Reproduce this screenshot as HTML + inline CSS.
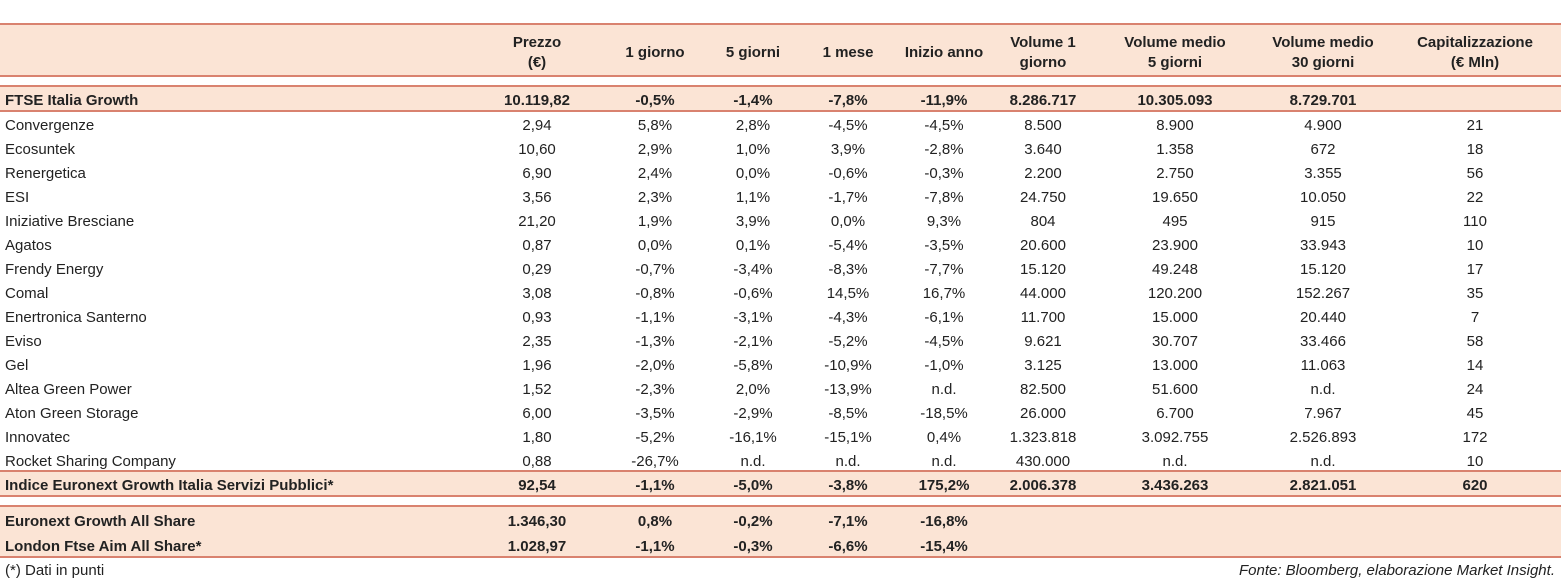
<!DOCTYPE html>
<html><head><meta charset="utf-8"><style>
body{margin:0;width:1561px;height:581px;background:#fff;position:relative;overflow:hidden;font-family:"Liberation Sans",sans-serif;color:#222}
.band{position:absolute;left:0;width:1561px;background:#fbe4d5}
.ln{position:absolute;left:0;width:1561px;height:2px;background:#d9826f}
.c{position:absolute;font-size:15px;white-space:nowrap;line-height:18px}
.b{font-weight:bold}
.h{text-align:center;font-weight:bold;font-size:15px;line-height:20px;position:absolute;white-space:nowrap}
</style></head><body>
<div class="band" style="top:25px;height:51px"></div>
<div class="band" style="top:87px;height:24px"></div>
<div class="band" style="top:472px;height:24px"></div>
<div class="band" style="top:507px;height:50px"></div>
<div class="ln" style="top:23px"></div>
<div class="ln" style="top:75px"></div>
<div class="ln" style="top:85px"></div>
<div class="ln" style="top:110px"></div>
<div class="ln" style="top:470px"></div>
<div class="ln" style="top:495px"></div>
<div class="ln" style="top:505px"></div>
<div class="ln" style="top:556px"></div>
<div class="c" style="left:5px;top:562px">(*) Dati in punti</div>
<div class="c" style="right:6px;top:562px;font-style:italic">Fonte: Bloomberg, elaborazione Market Insight.</div>
<script>
const colX=[537,655,753,848,944,1043,1175,1323,1475];
const headers=[["Prezzo","(€)"],["1 giorno"],["5 giorni"],["1 mese"],["Inizio anno"],["Volume 1","giorno"],["Volume medio","5 giorni"],["Volume medio","30 giorni"],["Capitalizzazione","(€ Mln)"]];
const names=["FTSE Italia Growth","Convergenze","Ecosuntek","Renergetica","ESI","Iniziative Bresciane","Agatos","Frendy Energy","Comal","Enertronica Santerno","Eviso","Gel","Altea Green Power","Aton Green Storage","Innovatec","Rocket Sharing Company","Indice Euronext Growth Italia Servizi Pubblici*","Euronext Growth All Share","London Ftse Aim All Share*"];
const rowsData=[
["10.119,82","-0,5%","-1,4%","-7,8%","-11,9%","8.286.717","10.305.093","8.729.701",""],
["2,94","5,8%","2,8%","-4,5%","-4,5%","8.500","8.900","4.900","21"],
["10,60","2,9%","1,0%","3,9%","-2,8%","3.640","1.358","672","18"],
["6,90","2,4%","0,0%","-0,6%","-0,3%","2.200","2.750","3.355","56"],
["3,56","2,3%","1,1%","-1,7%","-7,8%","24.750","19.650","10.050","22"],
["21,20","1,9%","3,9%","0,0%","9,3%","804","495","915","110"],
["0,87","0,0%","0,1%","-5,4%","-3,5%","20.600","23.900","33.943","10"],
["0,29","-0,7%","-3,4%","-8,3%","-7,7%","15.120","49.248","15.120","17"],
["3,08","-0,8%","-0,6%","14,5%","16,7%","44.000","120.200","152.267","35"],
["0,93","-1,1%","-3,1%","-4,3%","-6,1%","11.700","15.000","20.440","7"],
["2,35","-1,3%","-2,1%","-5,2%","-4,5%","9.621","30.707","33.466","58"],
["1,96","-2,0%","-5,8%","-10,9%","-1,0%","3.125","13.000","11.063","14"],
["1,52","-2,3%","2,0%","-13,9%","n.d.","82.500","51.600","n.d.","24"],
["6,00","-3,5%","-2,9%","-8,5%","-18,5%","26.000","6.700","7.967","45"],
["1,80","-5,2%","-16,1%","-15,1%","0,4%","1.323.818","3.092.755","2.526.893","172"],
["0,88","-26,7%","n.d.","n.d.","n.d.","430.000","n.d.","n.d.","10"],
["92,54","-1,1%","-5,0%","-3,8%","175,2%","2.006.378","3.436.263","2.821.051","620"],
["1.346,30","0,8%","-0,2%","-7,1%","-16,8%","","","",""],
["1.028,97","-1,1%","-0,3%","-6,6%","-15,4%","","","",""]];
const rowY=[101,126,150,174,198,222,246,270,294,318,342,366,390,414,438,462,486,522,547];
const bold=[0,16,17,18];
headers.forEach((h,i)=>{
  const d=document.createElement('div');d.className='h';
  
  
  d.innerHTML=h.join('<br>');
  d.style.left=(colX[i]-100)+'px';d.style.width='200px';
  d.style.top=(h.length>1?33:43)+'px';
  document.body.appendChild(d);
});
names.forEach((n,r)=>{
  const b=bold.includes(r);
  const d=document.createElement('div');d.className='c'+(b?' b':'');
  
  
  d.textContent=n;d.style.left='5px';d.style.top=(rowY[r]-9)+'px';
  document.body.appendChild(d);
  rowsData[r].forEach((v,i)=>{
    if(!v)return;
    const e=document.createElement('div');e.className='c'+(b?' b':'');
    
    
    e.textContent=v;e.style.left=(colX[i]-80)+'px';e.style.width='160px';e.style.textAlign='center';
    e.style.top=(rowY[r]-9)+'px';
    document.body.appendChild(e);
  });
});
</script>
</body></html>
